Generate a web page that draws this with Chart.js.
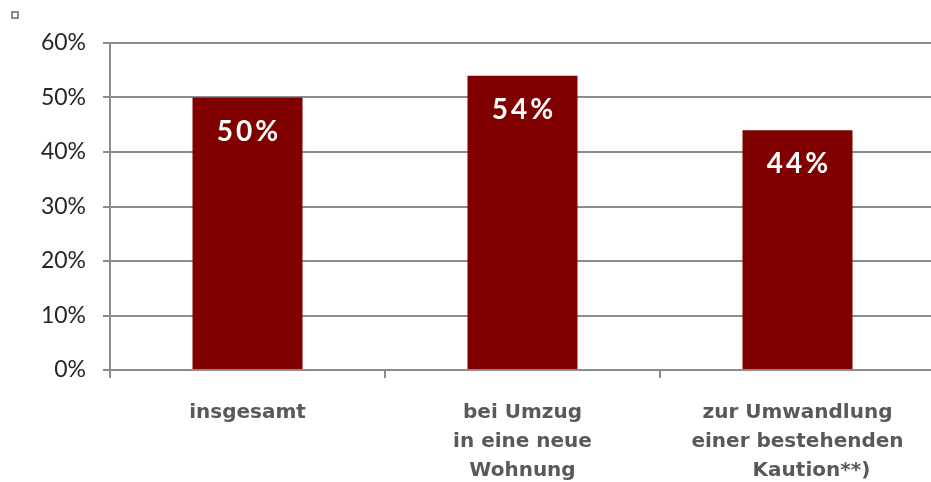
<!DOCTYPE html>
<html>
<head>
<meta charset="utf-8">
<script src="https://cdn.jsdelivr.net/npm/chart.js@4/dist/chart.umd.min.js"></script>
<style>
  html, body { margin: 0; padding: 0; background: #fff; overflow: hidden; }
  #wrap { position: absolute; left: 0; top: 0; width: 936px; height: 482px; }
  #marker { position: absolute; left: 11px; top: 11px; width: 4px; height: 4px; border: 2px solid #8c8c8c; background: #fff; }
</style>
</head>
<body>
<div id="wrap"><canvas id="c"></canvas></div>
<div id="marker"></div>
<script>
const categories = [
  ["insgesamt"],
  ["bei Umzug", "in eine neue", "Wohnung"],
  ["zur Umwandlung", "einer bestehenden", "    Kaution**)"]
];
const values = [50, 54, 44];
const yTicks = [0, 10, 20, 30, 40, 50, 60];

const barLabels = {
  id: 'barLabels',
  afterDatasetsDraw(chart) {
    const ctx = chart.ctx;
    const meta = chart.getDatasetMeta(0);
    ctx.save();
    ctx.fillStyle = '#ffffff';
    ctx.font = 'bold 28px Lato';
    if ('letterSpacing' in ctx) ctx.letterSpacing = '3px';
    ctx.textAlign = 'center';
    ctx.textBaseline = 'middle';
    meta.data.forEach((bar, i) => {
      ctx.fillText(values[i] + '%', bar.x + 1.5, bar.y + 34);
    });
    ctx.restore();
  }
};

new Chart(document.getElementById('c'), {
  type: 'bar',
  data: {
    labels: categories,
    datasets: [{
      data: values,
      backgroundColor: '#800000',
      borderWidth: 0,
      barPercentage: 0.4,
      categoryPercentage: 1.0
    }]
  },
  options: {
    responsive: true,
    maintainAspectRatio: false,
    animation: false,
    layout: { padding: { top: 43, left: 0, right: 1, bottom: 0 } },
    plugins: { legend: { display: false }, tooltip: { enabled: false } },
    scales: {
      y: {
        min: 0, max: 60,
        afterBuildTicks: s => { s.ticks = yTicks.map(v => ({ value: v })); },
        afterFit: s => { s.width = 110; },
        border: { display: true, color: '#8c8c8c', width: 2 },
        grid: { color: '#8c8c8c', lineWidth: 2, tickLength: 7, drawTicks: true },
        ticks: {
          padding: 17,
          color: '#262626',
          font: { family: 'Lato', size: 23 },
          callback: v => v + '%'
        }
      },
      x: {
        afterFit: s => { s.height = 112; },
        border: { display: true, color: '#8c8c8c', width: 2 },
        grid: { offset: true, drawOnChartArea: false, drawTicks: true, tickLength: 8, color: '#8c8c8c', lineWidth: 2 },
        ticks: {
          padding: 20,
          color: '#595959',
          maxRotation: 0,
          autoSkip: false,
          font: { family: 'DejaVu Sans', weight: 'bold', size: 20, lineHeight: 1.45 }
        }
      }
    }
  },
  plugins: [barLabels]
});
</script>
</body>
</html>
